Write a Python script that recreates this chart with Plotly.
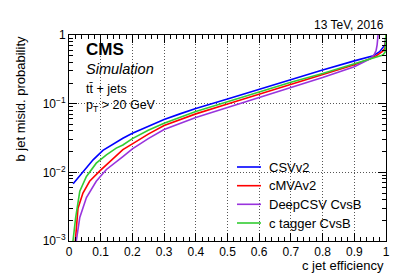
import plotly.graph_objects as go

# ---- data ----
csv_x = [0.013, 0.044, 0.076, 0.107, 0.139, 0.17, 0.2, 0.25, 0.3, 0.35, 0.4, 0.5, 0.6, 0.7, 0.8, 0.9, 0.94, 0.96, 0.98, 0.99, 0.997, 1.0]
csv_y = [0.0068, 0.0103, 0.0152, 0.0209, 0.026, 0.0314, 0.037, 0.047, 0.059, 0.071, 0.085, 0.117, 0.162, 0.225, 0.31, 0.42, 0.47, 0.50, 0.57, 0.64, 0.72, 1.0]

cmva_x = [0.02, 0.0284, 0.044, 0.065, 0.099, 0.128, 0.17, 0.2, 0.25, 0.3, 0.35, 0.4, 0.5, 0.6, 0.7, 0.8, 0.9, 0.95, 0.97, 0.99, 0.997, 1.0]
cmva_y = [0.001, 0.0030, 0.0050, 0.0074, 0.0107, 0.0144, 0.0214, 0.026, 0.036, 0.048, 0.059, 0.071, 0.099, 0.138, 0.193, 0.267, 0.37, 0.45, 0.50, 0.58, 0.65, 1.0]

deep_x = [0.023, 0.034, 0.055, 0.086, 0.118, 0.149, 0.17, 0.2, 0.25, 0.3, 0.35, 0.4, 0.5, 0.6, 0.7, 0.8, 0.9, 0.93, 0.95, 0.963, 0.969, 0.972, 0.974, 0.975]
deep_y = [0.001, 0.0022, 0.0043, 0.0074, 0.011, 0.0145, 0.017, 0.022, 0.031, 0.042, 0.052, 0.063, 0.088, 0.122, 0.170, 0.240, 0.345, 0.40, 0.45, 0.52, 0.60, 0.72, 0.88, 1.0]

ctag_x = [0.0126, 0.021, 0.034, 0.055, 0.086, 0.118, 0.149, 0.17, 0.2, 0.25, 0.3, 0.35, 0.4, 0.5, 0.6, 0.7, 0.8, 0.9, 0.95, 0.97, 0.99, 0.997, 1.0]
ctag_y = [0.001, 0.0022, 0.0053, 0.0087, 0.0136, 0.018, 0.0225, 0.025, 0.031, 0.041, 0.052, 0.064, 0.077, 0.107, 0.149, 0.205, 0.275, 0.38, 0.44, 0.47, 0.51, 0.56, 1.0]

series = [
    ("CSVv2", csv_x, csv_y, "#0000ff"),
    ("cMVAv2", cmva_x, cmva_y, "#ff0000"),
    ("DeepCSV CvsB", deep_x, deep_y, "#9933dd"),
    ("c tagger CvsB", ctag_x, ctag_y, "#33cc33"),
]

x_ticks = [0, 0.1, 0.2, 0.3, 0.4, 0.5, 0.6, 0.7, 0.8, 0.9, 1]
x_labels = ["0", "0.1", "0.2", "0.3", "0.4", "0.5", "0.6", "0.7", "0.8", "0.9", "1"]
y_ticks = [0.001, 0.01, 0.1, 1]
y_labels = ["10<sup>−3</sup>", "10<sup>−2</sup>", "10<sup>−1</sup>", "1"]
y_minor = [m * 10 ** e for e in (-3, -2, -1) for m in range(2, 10)]

FONT = "Liberation Sans, Arial, Helvetica, sans-serif"

# plot-area geometry in pixels
L, R, T, B = 61, 378, 27, 233
W, H = 407, 274


def px(x):
    return (x - L) / (R - L)


def py(y):
    return (B - y) / (B - T)


fig = go.Figure()
for name, xs, ys, col in series:
    fig.add_trace(go.Scatter(x=xs, y=ys, mode="lines", name=name, showlegend=False,
                             line=dict(color=col, width=1.6)))

axis_common = dict(
    ticks="inside", ticklen=8, tickcolor="black", tickwidth=1,
    showline=True, linecolor="black", linewidth=1, mirror="allticks",
    showgrid=True, gridcolor="#555555", griddash="1px,2px", gridwidth=1,
    zeroline=False, automargin=False, tickfont=dict(size=12, family=FONT),
)

fig.update_layout(
    width=W, height=H,
    margin=dict(l=L, r=W - R, t=T, b=H - B),
    paper_bgcolor="white", plot_bgcolor="white",
    font=dict(family=FONT, size=12, color="black"),
    showlegend=False,
    xaxis=dict(range=[0, 1], tickvals=x_ticks, ticktext=x_labels,
               minor=dict(dtick=0.02, ticklen=4, ticks="inside", tickcolor="black", showgrid=False),
               **axis_common),
    yaxis=dict(type="log", range=[-3, 0], tickvals=y_ticks, ticktext=y_labels,
               minor=dict(tickmode="array", tickvals=y_minor, ticklen=4, ticks="inside",
                          tickcolor="black", showgrid=False),
               **axis_common),
)

# axis titles (ROOT style: aligned to the end of the axis)
fig.add_annotation(text="c jet efficiency", xref="paper", yref="paper", x=1, y=py(257),
                   xanchor="right", yanchor="middle", showarrow=False,
                   font=dict(size=13, family=FONT, color="black"))
fig.add_annotation(text="b jet misid. probability", xref="paper", yref="paper", x=px(12), y=1,
                   xanchor="center", yanchor="top", textangle=-90, showarrow=False,
                   font=dict(size=13, family=FONT, color="black"))

annos = [
    ("<b>CMS</b>", 42, 17),
    ("<i>Simulation</i>", 61, 14.5),
    ("tt̄ + jets", 81, 12.5),
    ("p<sub>T</sub> > 20 GeV", 98, 12.5),
]
for text, yy, size in annos:
    fig.add_annotation(text=text, xref="paper", yref="paper", x=px(76), y=py(yy),
                       xanchor="left", yanchor="middle", showarrow=False,
                       font=dict(size=size, family=FONT, color="black"))
fig.add_annotation(text="13 TeV, 2016", xref="paper", yref="paper", x=1, y=py(17),
                   xanchor="right", yanchor="middle", showarrow=False,
                   font=dict(size=12, family=FONT, color="black"))

# legend (drawn as a box-less ROOT-style legend)
leg_rows = [159, 177.7, 196.3, 215]
for (name, _, _, col), yy in zip(series, leg_rows):
    fig.add_shape(type="line", xref="paper", yref="paper", x0=px(229), x1=px(253),
                  y0=py(yy), y1=py(yy), line=dict(color=col, width=1.6))
    fig.add_annotation(text=name, xref="paper", yref="paper", x=px(259), y=py(yy),
                       xanchor="left", yanchor="middle", showarrow=False,
                       font=dict(size=13, family=FONT, color="black"))

fig.write_html("out.html")
